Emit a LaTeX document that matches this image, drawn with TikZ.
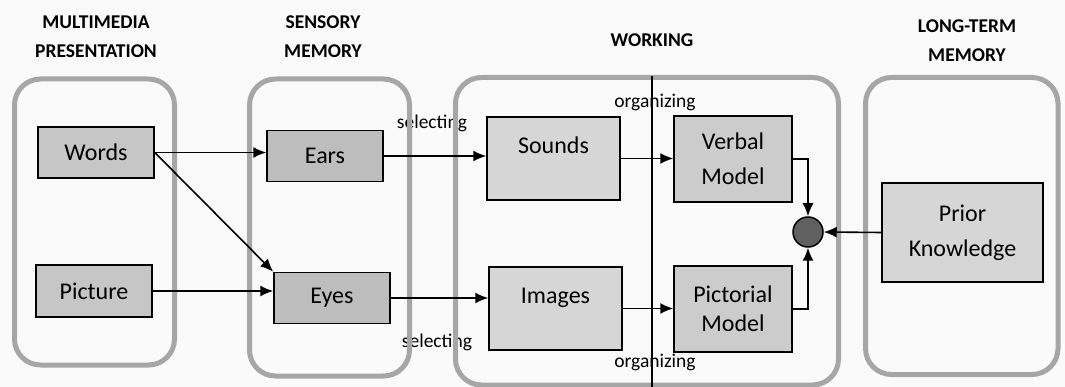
\documentclass[tikz,border=0pt]{standalone}
\usepackage{fontspec}
\setmainfont{Carlito}
\usetikzlibrary{arrows.meta,positioning}

\tikzset{
  stage/.style={draw=gray!70,line width=5pt,rounded corners=26pt},
  unit/.style={draw=black,line width=1.5pt,fill=gray!45,align=center,inner sep=0pt,
    font=\fontsize{24}{35}\selectfont},
  title/.style={font=\bfseries\fontsize{19.5}{29}\selectfont,align=center},
  proc/.style={font=\fontsize{19.5}{22}\selectfont,inner sep=0pt},
  flow/.style={-{Latex[length=13pt,width=11pt]},line width=1.6pt}
}

\begin{document}
\begin{tikzpicture}[x=1pt,y=-1pt]
\useasboundingbox[fill=gray!4] (0,0) rectangle (1065,387);

% titles
\node[title] (ttlpres) at (96,37) {MULTIMEDIA\\PRESENTATION};
\node[title] (ttlsens) at (323,37) {SENSORY\\MEMORY};
\node[title] (ttlwork) at (652,40) {WORKING};
\node[title] (ttllong) at (967,41) {LONG-TERM\\MEMORY};

% process labels
\node[proc] (selup) at (432,123) {selecting};
\node[proc] (sellow) at (437,342) {selecting};
\node[proc] (orgup) at (655,102) {organizing};
\node[proc] (orglow) at (655,362) {organizing};

% stages
\draw[stage] (14.5,79) rectangle (174.5,365);
\draw[stage] (249.5,79) rectangle (409.5,376);
\draw[stage] (455.5,77.5) rectangle (838.5,385);
\draw[stage] (865.5,77.5) rectangle (1058,374.5);

% divider
\coordinate (divtop) at (652,76);
\coordinate (divbot) at (652,387);
\draw[line width=1.5pt] (divtop) -- (divbot);

% units
\node[unit,minimum width=116pt,minimum height=51pt] (words) at (96,152.5) {Words};
\node[unit,minimum width=116pt,minimum height=52pt] (picture) at (94,291) {Picture};
\node[unit,minimum width=116pt,minimum height=51pt,fill=gray!52] (ears) at (325,156) {Ears};
\node[unit,minimum width=116pt,minimum height=51pt,fill=gray!52] (eyes) at (332,298) {Eyes};
\node[unit,minimum width=133pt,minimum height=83pt,fill=gray!32,text depth=26pt] (sounds) at (553.5,158.5) {Sounds};
\node[unit,minimum width=133pt,minimum height=83pt,fill=gray!32,text depth=26pt] (images) at (555.5,308.5) {Images};
\node[unit,minimum width=118pt,minimum height=86pt,fill=gray!40] (verbal) at (733,159) {Verbal\\Model};
\node[unit,minimum width=118pt,minimum height=86pt,fill=gray!40] (pictorial) at (733,309) {Pictorial\\[-6pt]Model};
\node[unit,minimum width=161pt,minimum height=99pt,fill=gray!32] (prior) at (962.5,232.5) {Prior\\Knowledge};
\node[circle,draw=black,line width=1.5pt,fill=gray!75!black,minimum size=30pt,inner sep=0pt] (join) at (808,232) {};

% connectors
\draw[flow] (words.east) -- (words.east -| ears.west);
\draw[flow] (words.east) -- (eyes.north west);
\draw[flow] (picture.east) -- (picture.east -| eyes.west);
\draw[flow] (ears.east) -- (ears.east -| sounds.west);
\draw[flow] (eyes.east) -- (eyes.east -| images.west);
\draw[flow] (sounds.east) -- (sounds.east -| verbal.west);
\draw[flow] (images.east) -- (images.east -| pictorial.west);
\draw[flow] (verbal.east) -| (join.north);
\draw[flow] (pictorial.east) -| (join.south);
\draw[flow] (prior.west) -- (join.east);
\end{tikzpicture}
\end{document}
